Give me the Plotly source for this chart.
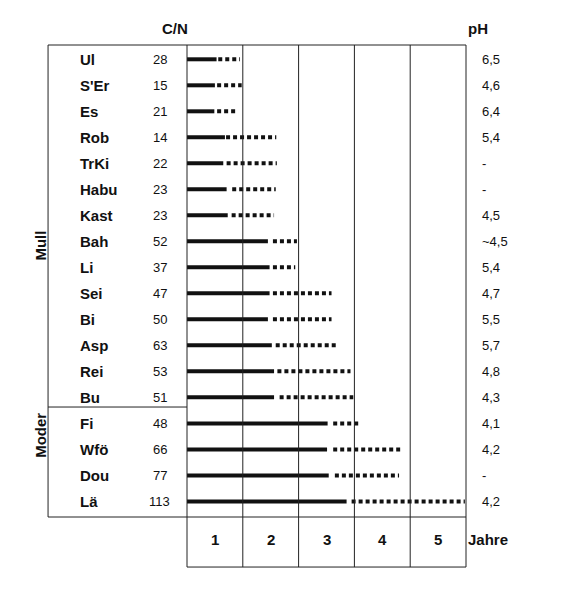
import plotly.graph_objects as go

names = ["Ul", "S'Er", "Es", "Rob", "TrKi", "Habu", "Kast", "Bah", "Li", "Sei",
         "Bi", "Asp", "Rei", "Bu", "Fi", "Wfö", "Dou", "Lä"]
cn = [28, 15, 21, 14, 22, 23, 23, 52, 37, 47, 50, 63, 53, 51, 48, 66, 77, 113]
ph = ["6,5", "4,6", "6,4", "5,4", "-", "-", "4,5", "~4,5", "5,4", "4,7",
      "5,5", "5,7", "4,8", "4,3", "4,1", "4,2", "-", "4,2"]
# years: end of solid part, start and end of dotted part
solid_end = [0.53, 0.50, 0.49, 0.68, 0.65, 0.71, 0.73, 1.45, 1.48, 1.48,
             1.45, 1.52, 1.56, 1.56, 2.52, 2.51, 2.54, 2.86]
dot_start = [0.56, 0.54, 0.54, 0.70, 0.71, 0.81, 0.80, 1.54, 1.54, 1.54,
             1.54, 1.59, 1.62, 1.66, 2.62, 2.62, 2.65, 2.95]
dot_end = [0.95, 0.98, 0.89, 1.60, 1.61, 1.59, 1.56, 1.97, 1.94, 2.59,
           2.59, 2.71, 2.93, 2.98, 3.12, 3.82, 3.80, 4.98]
years = ["1", "2", "3", "4", "5"]

LC = "#222"
fig = go.Figure()

sx, sy, dx, dy = [], [], [], []
for i, n in enumerate(names):
    sx += [0, solid_end[i], None]
    sy += [n, n, None]
    dx += [dot_start[i], dot_end[i], None]
    dy += [n, n, None]
fig.add_trace(go.Scatter(x=sx, y=sy, mode="lines", line=dict(color="#111", width=4),
                         hoverinfo="skip", showlegend=False))
fig.add_trace(go.Scatter(x=dx, y=dy, mode="lines",
                         line=dict(color="#111", width=4, dash="4px,3px"),
                         hoverinfo="skip", showlegend=False))

shapes = []
ln = dict(color=LC, width=1)
# outer boxes
shapes.append(dict(type="rect", xref="paper", yref="paper", x0=-0.498, x1=1, y0=0, y1=1, line=ln))
shapes.append(dict(type="line", xref="paper", yref="paper", x0=0, x1=0, y0=-0.106, y1=1, line=ln))
shapes.append(dict(type="line", xref="paper", yref="paper", x0=1, x1=1, y0=-0.106, y1=0, line=ln))
shapes.append(dict(type="line", xref="paper", yref="paper", x0=0, x1=1, y0=-0.106, y1=-0.106, line=ln))
shapes.append(dict(type="line", xref="paper", yref="paper", x0=-0.498, x1=0, y0=0.233, y1=0.233, line=ln))
for k in range(1, 5):
    shapes.append(dict(type="line", xref="x", yref="paper", x0=k, x1=k, y0=-0.106, y1=1, line=ln))

ann = []
F = "Arial, Liberation Sans"
for i, n in enumerate(names):
    ann.append(dict(x=-0.39, y=n, xref="paper", yref="y", text=f"<b>{n}</b>", xanchor="left",
                    showarrow=False, font=dict(family=F, size=15, color="#111")))
    ann.append(dict(x=-0.097, y=n, xref="paper", yref="y", text=str(cn[i]), xanchor="center",
                    showarrow=False, font=dict(family=F, size=13, color="#111")))
    ann.append(dict(x=1.05, y=n, xref="paper", yref="y", text=ph[i], xanchor="left",
                    showarrow=False, font=dict(family=F, size=13, color="#111")))
for k, t in enumerate(years):
    ann.append(dict(x=k + 0.5, y=-0.07, xref="x", yref="paper", text=f"<b>{t}</b>",
                    showarrow=False, font=dict(family=F, size=15, color="#111")))
ann.append(dict(x=1.158, y=-0.07, xref="paper", yref="paper", text="<b>Jahre</b>",
                showarrow=False, font=dict(family=F, size=15, color="#111")))
ann.append(dict(x=-0.097, y=1.057, xref="paper", yref="paper", text="<b>C/N</b>",
                showarrow=False, font=dict(family=F, size=15, color="#111")))
ann.append(dict(x=1.086, y=1.057, xref="paper", yref="paper", text="<b>pH</b>",
                showarrow=False, font=dict(family=F, size=15, color="#111")))
ann.append(dict(x=-0.563, y=0.576, xref="paper", yref="paper", text="<b>Mull</b>", textangle=-90,
                showarrow=False, font=dict(family=F, size=15, color="#111")))
ann.append(dict(x=-0.563, y=0.121, xref="paper", yref="paper", text="<b>Moder</b>", textangle=-90,
                showarrow=False, font=dict(family=F, size=15, color="#111")))

fig.update_layout(
    width=561, height=600,
    margin=dict(l=179, r=103, t=37, b=91),
    plot_bgcolor="white", paper_bgcolor="white",
    shapes=shapes, annotations=ann,
    xaxis=dict(range=[0, 5], visible=False),
    yaxis=dict(type="category", categoryorder="array", categoryarray=names,
               range=[17.6, -0.55], visible=False),
)
fig.write_html("out.html")
